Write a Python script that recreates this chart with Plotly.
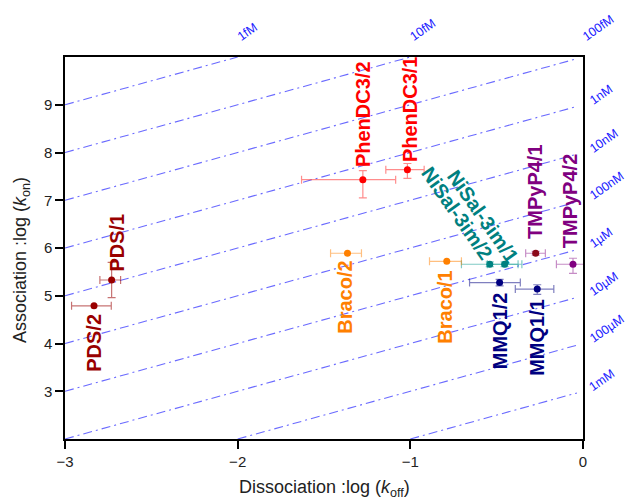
import math
import plotly.graph_objects as go

# ---- data ----
names = ["PDS/1", "PDS/2", "PhenDC3/2", "PhenDC3/1", "NiSal-3im/2", "NiSal-3im/1",
         "TMPyP4/1", "TMPyP4/2", "Braco/2", "Braco/1", "MMQ1/2", "MMQ1/1"]
log_koff = [-2.730, -2.832, -1.275, -1.017, -0.540, -0.454,
            -0.274, -0.058, -1.364, -0.789, -0.483, -0.265]
log_kon = [5.33, 4.79, 7.43, 7.64, 5.66, 5.66,
           5.89, 5.66, 5.89, 5.72, 5.275, 5.14]
koff_err_minus = [0.068, 0.13, 0.355, 0.125, 0.164, 0.10, 0.058, 0.096, 0.098, 0.10, 0.174, 0.127]
koff_err_plus = [0.052, 0.10, 0.19, 0.097, 0.164, 0.10, 0.056, 0.096, 0.081, 0.085, 0.12, 0.096]
kon_err_minus = [0.37, 0.0, 0.38, 0.18, 0.05, 0.05, 0.04, 0.19, 0.0, 0.0, 0.07, 0.11]
kon_err_plus = [0.37, 0.0, 0.19, 0.13, 0.05, 0.05, 0.04, 0.125, 0.0, 0.0, 0.07, 0.09]

# iso-KD lines: log(kon) - log(koff) = const
iso_const = [12, 11, 10, 9, 8, 7, 6, 5, 4, 3]
iso_labels = ["1fM", "10fM", "100fM", "1nM", "10nM", "100nM", "1\u00b5M", "10\u00b5M", "100\u00b5M", "1mM"]

x_ticks = [-3, -2, -1, 0]
y_ticks = [3, 4, 5, 6, 7, 8, 9]

# ---- styles ----
marker_colors = ["#990000", "#990000", "#ff0000", "#ff0000", "#008080", "#008080",
                 "#8b0a1a", "#800080", "#ff8000", "#ff8000", "#000080", "#000080"]
err_colors = ["rgba(153,0,0,0.55)", "rgba(153,0,0,0.55)", "rgba(255,0,0,0.45)", "rgba(255,0,0,0.45)",
              "rgba(0,150,140,0.5)", "rgba(0,150,140,0.5)", "rgba(128,0,128,0.45)", "rgba(128,0,128,0.45)",
              "rgba(255,128,0,0.5)", "rgba(255,128,0,0.5)", "rgba(0,0,128,0.5)", "rgba(0,0,128,0.5)"]
text_colors = ["#990000", "#990000", "#ff0000", "#ff0000", "#008080", "#008080",
               "#800080", "#800080", "#ff8000", "#ff8000", "#000080", "#000080"]
label_shift = [(5, 37), (0.5, -37.5), (-0.5, 66), (2, 61), (-33, 51), (-22, 48),
               (0, 61), (-3, 63), (-2, -44), (-1.5, -46), (0, -48), (-1, -48.5)]
label_angle = [-90, -90, -90, -90, 55, 55, -90, -90, -90, -90, -90, -90]

XMIN, XMAX, YMIN, YMAX = -3, 0, 2, 10
FONT = "Arial, Liberation Sans, sans-serif"
ISO_SIZE = 12.5
ISO_ANGLE = 35
# approximate Arial advance widths (em) for label-centre placement
CHAR_W = {"1": 0.556, "0": 0.556, "f": 0.278, "n": 0.556, "m": 0.833, "M": 0.833, "\u00b5": 0.576}


def text_w(s, size):
    return sum(CHAR_W.get(ch, 0.556) for ch in s) * size


fig = go.Figure()

# iso lines
for c in iso_const:
    x0 = max(XMIN, YMIN - c)
    x1 = min(XMAX - 0.035, YMAX - c)
    if x1 <= x0:
        continue
    fig.add_trace(go.Scatter(x=[x0, x1], y=[x0 + c, x1 + c], mode="lines",
                             line=dict(color="rgba(90,90,255,0.9)", width=1.1, dash="9px,4px,2px,4px"),
                             hoverinfo="skip", showlegend=False))

# data points
for i, n in enumerate(names):
    fig.add_trace(go.Scatter(
        x=[log_koff[i]], y=[log_kon[i]], mode="markers", name=n, showlegend=False,
        marker=dict(color=marker_colors[i], size=7),
        error_x=dict(type="data", symmetric=False, array=[koff_err_plus[i]],
                     arrayminus=[koff_err_minus[i]], color=err_colors[i], thickness=1.2, width=4),
        error_y=dict(type="data", symmetric=False, array=[kon_err_plus[i]],
                     arrayminus=[kon_err_minus[i]], color=err_colors[i], thickness=1.2, width=4,
                     visible=(kon_err_plus[i] > 0 or kon_err_minus[i] > 0)),
    ))
    dx, dy = label_shift[i]
    fig.add_annotation(x=log_koff[i], y=log_kon[i], xref="x", yref="y", text="<b>%s</b>" % n,
                       showarrow=False, textangle=label_angle[i], xanchor="center", yanchor="middle",
                       xshift=dx, yshift=dy,
                       font=dict(family=FONT, size=20, color=text_colors[i]))

# iso line labels (centre placed half a text-width along the rotated baseline)
ca, sa = math.cos(math.radians(ISO_ANGLE)), math.sin(math.radians(ISO_ANGLE))
for c, lab in zip(iso_const, iso_labels):
    hw = text_w(lab, ISO_SIZE) / 2
    if c >= YMAX - XMAX:
        ax, ay, bx, by = YMAX - c, YMAX, 1, 19
    else:
        ax, ay, bx, by = XMAX, c + XMAX, 8, 3
    fig.add_annotation(x=ax, y=ay, xref="x", yref="y", text=lab, showarrow=False,
                       textangle=-ISO_ANGLE, xanchor="center", yanchor="middle",
                       xshift=bx + hw * ca, yshift=by + hw * sa,
                       font=dict(family=FONT, size=ISO_SIZE, color="#1a1aff"))

# axis titles
fig.add_annotation(x=0.5, y=0, xref="paper", yref="paper", yshift=-49, showarrow=False,
                   xanchor="center", yanchor="middle",
                   text="Dissociation :log (<i>k</i><sub>off</sub>)",
                   font=dict(family=FONT, size=18, color="#222"))
fig.add_annotation(x=0, y=0.5, xref="paper", yref="paper", xshift=-44, yshift=-12, showarrow=False,
                   xanchor="center", yanchor="middle", textangle=-90,
                   text="Association :log (<i>k</i><sub>on</sub>)",
                   font=dict(family=FONT, size=18, color="#222"))

axis_common = dict(showgrid=False, zeroline=False, showline=True, linecolor="black", linewidth=1.5,
                   mirror=True, ticks="outside", ticklen=8, tickwidth=1.5, tickcolor="black",
                   tickfont=dict(family=FONT, size=15, color="#222"))

fig.update_layout(
    width=627, height=499, autosize=False,
    margin=dict(l=65, r=44, t=57, b=60),
    paper_bgcolor="white", plot_bgcolor="white",
    xaxis=dict(range=[XMIN, XMAX], tickvals=x_ticks, **axis_common),
    yaxis=dict(range=[YMIN, YMAX], tickvals=y_ticks, **axis_common),
)

fig.write_html("out.html", config={"displayModeBar": False},
               post_script="document.body.style.margin='0px';")
